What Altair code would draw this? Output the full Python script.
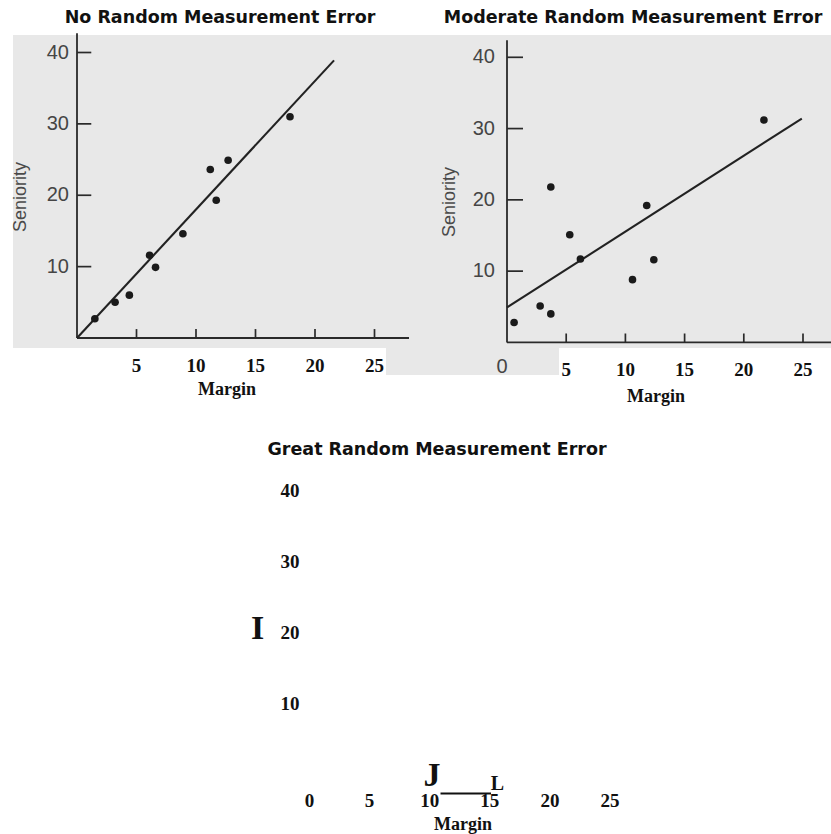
import altair as alt
import pandas as pd

# ---------------- data ----------------
TITLES = ["No Random Measurement Error",
          "Moderate Random Measurement Error",
          "Great Random Measurement Error"]
X_LABEL = "Margin"
Y_LABEL = "Seniority"

# Panel 1: no random measurement error
NOERR_MARGIN = [1.5, 3.2, 4.4, 6.1, 6.6, 8.9, 11.2, 11.7, 12.7, 17.9]
NOERR_SENIORITY = [2.7, 5.0, 6.0, 11.6, 9.9, 14.6, 23.6, 19.3, 24.9, 31.0]
NOERR_FIT_MARGIN = [0, 21.6]
NOERR_FIT_SENIORITY = [0, 38.9]

# Panel 2: moderate random measurement error
MOD_MARGIN = [0.6, 2.8, 3.7, 3.7, 5.3, 6.2, 10.6, 11.8, 12.4, 21.7]
MOD_SENIORITY = [2.8, 5.1, 4.0, 21.8, 15.1, 11.7, 8.8, 19.2, 11.6, 31.2]
MOD_FIT_MARGIN = [0, 24.9]
MOD_FIT_SENIORITY = [4.9, 31.4]

Y_TICKS = [10, 20, 30, 40]
X_TICKS = [5, 10, 15, 20, 25]
X_TICKS_GREAT = [0, 5, 10, 15, 20, 25]

# scan artefacts in the third panel
ARTEFACT_LINE_MARGIN = [10.9, 15.1]

# ---------------- styling ----------------
SCAN_GRAY = "#e8e8e8"
INK = "#222222"
SERIF = "Liberation Serif"
SANS = "Liberation Sans"
TITLE_FONT = "DejaVu Sans"


def scales(x_range, y_range):
    xs = alt.Scale(domain=[0, 25], range=x_range, nice=False, zero=False)
    ys = alt.Scale(domain=[0, 40], range=y_range, nice=False, zero=False)
    return xs, ys


def scatter_panel(xs, ys, margin, seniority, fit_x, fit_y,
                  x_end, y_end, ytick_len, xtick_len,
                  ylab_x, xlab_y, margin_pos, seniority_pos):
    X = lambda f: alt.X(f, type="quantitative", scale=xs, axis=None)
    Y = lambda f: alt.Y(f, type="quantitative", scale=ys, axis=None)

    pts = pd.DataFrame({"m": margin, "s": seniority})
    fit = pd.DataFrame({"m": fit_x, "s": fit_y})
    axes = pd.DataFrame({"x0": [0, 0], "x1": [0, x_end],
                         "y0": [0, 0], "y1": [y_end, 0]})
    yt = pd.DataFrame({"v": Y_TICKS, "x0": 0.0, "x1": ytick_len})
    xt = pd.DataFrame({"v": X_TICKS, "y0": 0.0, "y1": xtick_len})

    axis_lines = alt.Chart(axes).mark_rule(color="#2a2a2a", strokeWidth=1.8).encode(
        x=X("x0"), x2="x1", y=Y("y0"), y2="y1")
    ytick_marks = alt.Chart(yt).mark_rule(color="#2a2a2a", strokeWidth=1.7).encode(
        x=X("x0"), x2="x1", y=Y("v"))
    xtick_marks = alt.Chart(xt).mark_rule(color="#2a2a2a", strokeWidth=1.7).encode(
        x=X("v"), y=Y("y0"), y2="y1")
    fit_line = alt.Chart(fit).mark_line(color=INK, strokeWidth=2.1).encode(
        x=X("m"), y=Y("s"))
    dots = alt.Chart(pts).mark_circle(size=58, color="#1a1a1a", opacity=1).encode(
        x=X("m"), y=Y("s"))
    ylabels = alt.Chart(pd.DataFrame({"v": Y_TICKS})).mark_text(
        align="right", baseline="middle", font=SANS, fontSize=20, color="#454545"
    ).encode(y=Y("v"), x=alt.value(ylab_x), text=alt.Text("v:Q"))
    xlabels = alt.Chart(pd.DataFrame({"v": X_TICKS})).mark_text(
        align="center", baseline="middle", font=SERIF, fontSize=19,
        fontWeight="bold", color="#111111"
    ).encode(x=X("v"), y=alt.value(xlab_y), text=alt.Text("v:Q"))
    xtitle = alt.Chart(pd.DataFrame({"t": [X_LABEL]})).mark_text(
        align="center", baseline="middle", font=SERIF, fontSize=18,
        fontWeight="bold", color="#111111"
    ).encode(x=alt.value(margin_pos[0]), y=alt.value(margin_pos[1]), text="t:N")
    ytitle = alt.Chart(pd.DataFrame({"t": [Y_LABEL]})).mark_text(
        align="center", baseline="middle", font=SANS, fontSize=18, angle=270,
        color="#4a4a4a"
    ).encode(x=alt.value(seniority_pos[0]), y=alt.value(seniority_pos[1]), text="t:N")
    return alt.layer(axis_lines, ytick_marks, xtick_marks, fit_line, dots,
                     ylabels, xlabels, xtitle, ytitle)


# panel 1
p1x, p1y = scales([77, 374.5], [338, 52.5])
panel1 = scatter_panel(p1x, p1y, NOERR_MARGIN, NOERR_SENIORITY,
                       NOERR_FIT_MARGIN, NOERR_FIT_SENIORITY,
                       x_end=27.9, y_end=42.7, ytick_len=1.2, xtick_len=1.25,
                       ylab_x=69, xlab_y=366, margin_pos=(227, 390),
                       seniority_pos=(21, 197))

# panel 2
p2x, p2y = scales([507, 803], [342.4, 57.3])
panel2_core = scatter_panel(p2x, p2y, MOD_MARGIN, MOD_SENIORITY,
                            MOD_FIT_MARGIN, MOD_FIT_SENIORITY,
                            x_end=27.6, y_end=42.4, ytick_len=1.35, xtick_len=1.25,
                            ylab_x=495, xlab_y=370, margin_pos=(656, 397),
                            seniority_pos=(450, 202))
zero_label = alt.Chart(pd.DataFrame({"v": [0]})).mark_text(
    align="center", baseline="middle", font=SANS, fontSize=20, color="#454545",
    dx=-5
).encode(x=alt.X("v:Q", scale=p2x, axis=None),
         y=alt.value(367), text=alt.Text("v:Q"))
panel2 = alt.layer(panel2_core, zero_label)

# panel 3 (only labels survived)
p3x, p3y = scales([309.5, 610], [775, 491])
X3 = lambda f: alt.X(f, type="quantitative", scale=p3x, axis=None)
Y3 = lambda f: alt.Y(f, type="quantitative", scale=p3y, axis=None)
p3_ylabels = alt.Chart(pd.DataFrame({"v": Y_TICKS})).mark_text(
    align="center", baseline="middle", font=SERIF, fontSize=19,
    fontWeight="bold", color="#111111"
).encode(y=Y3("v"), x=alt.value(290), text=alt.Text("v:Q"))
p3_xlabels = alt.Chart(pd.DataFrame({"v": X_TICKS_GREAT})).mark_text(
    align="center", baseline="middle", font=SERIF, fontSize=19,
    fontWeight="bold", color="#111111"
).encode(x=X3("v"), y=alt.value(801), text=alt.Text("v:Q"))
p3_xtitle = alt.Chart(pd.DataFrame({"t": [X_LABEL]})).mark_text(
    align="center", baseline="middle", font=SERIF, fontSize=18,
    fontWeight="bold", color="#111111"
).encode(x=alt.value(463), y=alt.value(825), text="t:N")
p3_line = alt.Chart(pd.DataFrame({"m": ARTEFACT_LINE_MARGIN})).mark_rule(
    color="#111111", strokeWidth=2
).encode(x=alt.X("min(m):Q", scale=p3x, axis=None), x2="max(m):Q", y=alt.value(793.5))
p3_I = alt.Chart(pd.DataFrame({"t": ["I"]})).mark_text(
    font=SERIF, fontSize=34, fontWeight="bold", color="#111111", baseline="alphabetic"
).encode(x=alt.value(257.5), y=alt.value(639), text="t:N")
p3_J = alt.Chart(pd.DataFrame({"t": ["J"]})).mark_text(
    font=SERIF, fontSize=34, fontWeight="bold", color="#111111", baseline="alphabetic"
).encode(x=alt.value(432), y=alt.value(786), text="t:N")
p3_L = alt.Chart(pd.DataFrame({"t": ["L"]})).mark_text(
    font=SERIF, fontSize=20, fontWeight="bold", color="#111111", baseline="alphabetic"
).encode(x=alt.value(497.5), y=alt.value(790), text="t:N")
panel3 = alt.layer(p3_line, p3_ylabels, p3_xlabels, p3_xtitle, p3_I, p3_J, p3_L)

# scanned paper backgrounds
one = pd.DataFrame({"k": [0]})
bg_main = alt.Chart(one).mark_rect(color=SCAN_GRAY).encode(
    x=alt.value(13), x2=alt.value(831), y=alt.value(35), y2=alt.value(348))
bg_strip = alt.Chart(one).mark_rect(color=SCAN_GRAY).encode(
    x=alt.value(386), x2=alt.value(559), y=alt.value(348), y2=alt.value(375))

# titles
title_layers = []
for txt, (tx, ty) in zip(TITLES, [(220, 18), (633, 18), (437, 450)]):
    title_layers.append(
        alt.Chart(pd.DataFrame({"t": [txt]})).mark_text(
            font=TITLE_FONT, fontSize=17.5, fontWeight="bold", color="#111111",
            align="center", baseline="middle"
        ).encode(x=alt.value(tx), y=alt.value(ty), text="t:N")
    )

chart = alt.layer(
    bg_main, bg_strip, panel1, panel2, panel3, *title_layers
).resolve_scale(
    x="independent", y="independent"
).properties(
    width=831, height=834,
    autosize=alt.AutoSizeParams(type="none"),
    padding=0,
    background="white",
).configure_view(stroke=None)

chart.save("out.html", embed_options={"renderer": "svg", "actions": False})
